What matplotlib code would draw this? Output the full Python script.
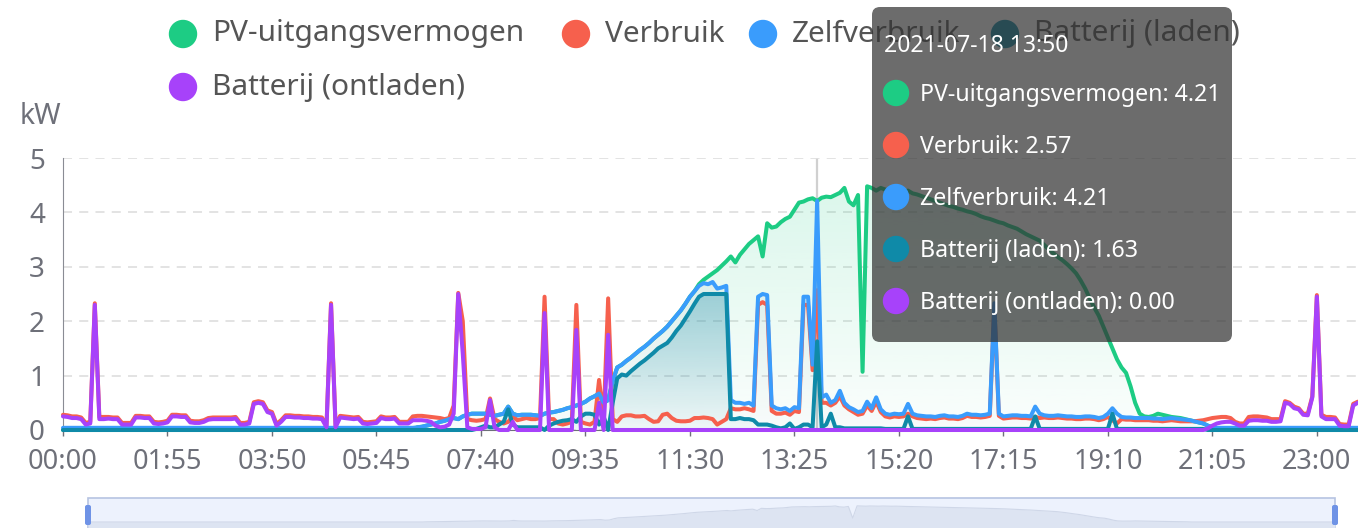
import matplotlib
import numpy as np
from matplotlib.colors import to_rgb
from matplotlib.patches import Circle, FancyBboxPatch, PathPatch, Rectangle

matplotlib.use("Agg")
import matplotlib.pyplot as plt

W, H = 1358, 528
STEP = 4.543  # px per 5-minute slot
FONT = ["Noto Sans", "DejaVu Sans"]

# one value per 5 minutes, one row per hour (kW)
pv_output = [
    0.00, 0.00, 0.00, 0.00, 0.00, 0.00, 0.00, 0.00, 0.00, 0.00, 0.00, 0.00,
    0.00, 0.00, 0.00, 0.00, 0.00, 0.00, 0.00, 0.00, 0.00, 0.00, 0.00, 0.00,
    0.00, 0.00, 0.00, 0.00, 0.00, 0.00, 0.00, 0.00, 0.00, 0.00, 0.00, 0.00,
    0.00, 0.00, 0.00, 0.00, 0.00, 0.00, 0.00, 0.00, 0.00, 0.00, 0.00, 0.00,
    0.00, 0.00, 0.00, 0.00, 0.00, 0.00, 0.00, 0.00, 0.00, 0.00, 0.00, 0.00,
    0.00, 0.00, 0.00, 0.00, 0.00, 0.00, 0.00, 0.00, 0.00, 0.00, 0.00, 0.00,
    0.00, 0.00, 0.00, 0.00, 0.00, 0.00, 0.05, 0.06, 0.08, 0.10, 0.12, 0.15,
    0.17, 0.20, 0.22, 0.20, 0.25, 0.28, 0.30, 0.30, 0.30, 0.30, 0.28, 0.26,
    0.28, 0.30, 0.43, 0.30, 0.27, 0.28, 0.28, 0.28, 0.27, 0.26, 0.30, 0.32,
    0.33, 0.35, 0.37, 0.40, 0.42, 0.45, 0.48, 0.52, 0.58, 0.62, 0.67, 0.50,
    0.55, 0.90, 1.15, 1.20, 1.27, 1.33, 1.40, 1.47, 1.53, 1.60, 1.68, 1.75,
    1.82, 1.90, 2.00, 2.10, 2.20, 2.32, 2.45, 2.55, 2.68, 2.76, 2.82, 2.88,
    2.94, 3.02, 3.10, 3.19, 3.08, 3.22, 3.32, 3.42, 3.49, 3.56, 3.19, 3.80,
    3.72, 3.74, 3.82, 3.88, 3.92, 4.05, 4.18, 4.20, 4.24, 4.26, 4.21, 4.27,
    4.29, 4.28, 4.32, 4.36, 4.45, 4.20, 4.13, 4.32, 1.07, 4.48, 4.45, 4.40,
    4.45, 4.42, 4.40, 4.44, 4.41, 4.38, 4.40, 4.35, 4.33, 4.30, 4.27, 4.24,
    4.21, 4.18, 4.15, 4.12, 4.10, 4.07, 4.05, 4.02, 4.00, 3.97, 3.93, 3.90,
    3.88, 3.85, 3.82, 3.80, 3.76, 3.73, 3.70, 3.65, 3.60, 3.56, 3.52, 3.48,
    3.40, 3.32, 3.25, 3.18, 3.12, 3.05, 2.97, 2.88, 2.75, 2.60, 2.42, 2.25,
    2.10, 1.90, 1.70, 1.50, 1.30, 1.15, 1.05, 0.80, 0.50, 0.30, 0.25, 0.24,
    0.26, 0.30, 0.28, 0.26, 0.24, 0.23, 0.22, 0.20, 0.18, 0.16, 0.14, 0.12,
    0.08, 0.05, 0.00, 0.00, 0.00, 0.00, 0.00, 0.00, 0.00, 0.00, 0.00, 0.00,
    0.00, 0.00, 0.00, 0.00, 0.00, 0.00, 0.00, 0.00, 0.00, 0.00, 0.00, 0.00,
    0.00, 0.00, 0.00, 0.00, 0.00, 0.00, 0.00, 0.00, 0.00, 0.00, 0.00, 0.00,
]

consumption = [
    0.28, 0.27, 0.25, 0.25, 0.23, 0.13, 0.15, 2.33, 0.24, 0.24, 0.24, 0.23,
    0.23, 0.13, 0.13, 0.13, 0.26, 0.26, 0.25, 0.25, 0.15, 0.14, 0.15, 0.17,
    0.28, 0.28, 0.27, 0.27, 0.17, 0.16, 0.16, 0.18, 0.22, 0.23, 0.23, 0.23,
    0.23, 0.23, 0.24, 0.13, 0.13, 0.15, 0.51, 0.53, 0.51, 0.36, 0.33, 0.11,
    0.18, 0.27, 0.27, 0.26, 0.26, 0.25, 0.25, 0.24, 0.24, 0.23, 0.08, 2.33,
    0.08, 0.26, 0.25, 0.24, 0.23, 0.24, 0.15, 0.14, 0.15, 0.16, 0.25, 0.23,
    0.23, 0.24, 0.15, 0.15, 0.15, 0.25, 0.26, 0.26, 0.25, 0.24, 0.23, 0.22,
    0.20, 0.22, 0.45, 2.52, 2.00, 0.20, 0.18, 0.17, 0.18, 0.20, 0.58, 0.20,
    0.15, 0.12, 0.15, 0.25, 0.18, 0.20, 0.22, 0.20, 0.20, 0.22, 2.45, 0.20,
    0.20, 0.12, 0.10, 0.12, 0.15, 2.30, 0.15, 0.12, 0.10, 0.15, 0.92, 0.20,
    2.42, 0.20, 0.15, 0.25, 0.27, 0.27, 0.25, 0.25, 0.26, 0.20, 0.15, 0.16,
    0.28, 0.30, 0.22, 0.17, 0.16, 0.16, 0.17, 0.22, 0.22, 0.23, 0.22, 0.20,
    0.10, 0.15, 0.20, 0.40, 0.38, 0.38, 0.40, 0.38, 0.35, 2.30, 2.35, 2.30,
    0.35, 0.30, 0.30, 0.32, 0.28, 0.35, 0.33, 2.30, 2.30, 1.10, 2.57, 0.50,
    0.50, 0.45, 0.50, 0.62, 0.45, 0.38, 0.33, 0.28, 0.30, 0.45, 0.35, 0.52,
    0.33, 0.25, 0.23, 0.25, 0.24, 0.25, 0.30, 0.25, 0.22, 0.21, 0.20, 0.21,
    0.20, 0.22, 0.23, 0.21, 0.21, 0.20, 0.22, 0.26, 0.24, 0.24, 0.23, 0.24,
    0.26, 2.28, 0.26, 0.21, 0.22, 0.23, 0.23, 0.22, 0.22, 0.21, 0.24, 0.22,
    0.23, 0.22, 0.22, 0.23, 0.22, 0.21, 0.21, 0.20, 0.20, 0.21, 0.21, 0.20,
    0.18, 0.20, 0.24, 0.18, 0.12, 0.20, 0.19, 0.19, 0.18, 0.18, 0.18, 0.18,
    0.17, 0.17, 0.16, 0.17, 0.18, 0.17, 0.16, 0.16, 0.16, 0.16, 0.17, 0.18,
    0.20, 0.22, 0.23, 0.24, 0.24, 0.22, 0.15, 0.12, 0.12, 0.24, 0.25, 0.25,
    0.24, 0.23, 0.20, 0.20, 0.20, 0.53, 0.50, 0.43, 0.40, 0.30, 0.30, 0.62,
    2.48, 0.28, 0.24, 0.24, 0.23, 0.11, 0.10, 0.10, 0.48, 0.52, 0.52, 0.52,
]

self_use = [
    0.04, 0.04, 0.04, 0.04, 0.04, 0.04, 0.04, 0.04, 0.04, 0.04, 0.04, 0.04,
    0.04, 0.04, 0.04, 0.04, 0.04, 0.04, 0.04, 0.04, 0.04, 0.04, 0.04, 0.04,
    0.04, 0.04, 0.04, 0.04, 0.04, 0.04, 0.04, 0.04, 0.04, 0.04, 0.04, 0.04,
    0.04, 0.04, 0.04, 0.04, 0.04, 0.04, 0.04, 0.04, 0.04, 0.04, 0.04, 0.04,
    0.04, 0.04, 0.04, 0.04, 0.04, 0.04, 0.04, 0.04, 0.04, 0.04, 0.04, 0.04,
    0.04, 0.04, 0.04, 0.04, 0.04, 0.04, 0.04, 0.04, 0.04, 0.04, 0.04, 0.04,
    0.04, 0.04, 0.04, 0.04, 0.04, 0.04, 0.05, 0.06, 0.08, 0.10, 0.12, 0.15,
    0.17, 0.20, 0.22, 0.20, 0.25, 0.28, 0.30, 0.30, 0.30, 0.30, 0.28, 0.26,
    0.28, 0.30, 0.43, 0.30, 0.27, 0.28, 0.28, 0.28, 0.27, 0.26, 0.30, 0.32,
    0.33, 0.35, 0.37, 0.40, 0.42, 0.45, 0.48, 0.52, 0.58, 0.62, 0.67, 0.50,
    0.55, 0.90, 1.15, 1.20, 1.27, 1.33, 1.40, 1.47, 1.53, 1.60, 1.68, 1.75,
    1.82, 1.90, 2.00, 2.10, 2.20, 2.32, 2.45, 2.55, 2.65, 2.70, 2.68, 2.72,
    2.60, 2.62, 2.65, 0.55, 0.50, 0.50, 0.48, 0.50, 0.45, 2.45, 2.50, 2.48,
    0.45, 0.40, 0.38, 0.40, 0.35, 0.42, 0.40, 2.45, 2.45, 1.20, 4.21, 0.60,
    0.65, 0.50, 0.55, 0.72, 0.50, 0.42, 0.38, 0.33, 0.35, 0.52, 0.40, 0.60,
    0.38, 0.30, 0.28, 0.30, 0.29, 0.30, 0.48, 0.30, 0.27, 0.26, 0.25, 0.25,
    0.24, 0.26, 0.27, 0.25, 0.25, 0.24, 0.26, 0.30, 0.28, 0.28, 0.27, 0.28,
    0.30, 2.33, 0.30, 0.25, 0.26, 0.27, 0.27, 0.26, 0.26, 0.25, 0.43, 0.30,
    0.27, 0.26, 0.26, 0.27, 0.26, 0.25, 0.25, 0.24, 0.24, 0.25, 0.25, 0.24,
    0.22, 0.24, 0.30, 0.40, 0.30, 0.24, 0.23, 0.23, 0.22, 0.22, 0.22, 0.22,
    0.21, 0.21, 0.20, 0.21, 0.22, 0.21, 0.20, 0.19, 0.18, 0.16, 0.14, 0.12,
    0.08, 0.05, 0.04, 0.04, 0.04, 0.04, 0.04, 0.04, 0.04, 0.04, 0.04, 0.04,
    0.04, 0.04, 0.04, 0.04, 0.04, 0.04, 0.04, 0.04, 0.04, 0.04, 0.04, 0.04,
    0.04, 0.04, 0.04, 0.04, 0.04, 0.04, 0.04, 0.04, 0.04, 0.04, 0.04, 0.04,
]

battery_charge = [
    0.00, 0.00, 0.00, 0.00, 0.00, 0.00, 0.00, 0.00, 0.00, 0.00, 0.00, 0.00,
    0.00, 0.00, 0.00, 0.00, 0.00, 0.00, 0.00, 0.00, 0.00, 0.00, 0.00, 0.00,
    0.00, 0.00, 0.00, 0.00, 0.00, 0.00, 0.00, 0.00, 0.00, 0.00, 0.00, 0.00,
    0.00, 0.00, 0.00, 0.00, 0.00, 0.00, 0.00, 0.00, 0.00, 0.00, 0.00, 0.00,
    0.00, 0.00, 0.00, 0.00, 0.00, 0.00, 0.00, 0.00, 0.00, 0.00, 0.00, 0.00,
    0.00, 0.00, 0.00, 0.00, 0.00, 0.00, 0.00, 0.00, 0.00, 0.00, 0.00, 0.00,
    0.00, 0.00, 0.00, 0.00, 0.00, 0.00, 0.00, 0.00, 0.00, 0.00, 0.00, 0.00,
    0.00, 0.00, 0.00, 0.00, 0.00, 0.00, 0.00, 0.02, 0.05, 0.08, 0.05, 0.05,
    0.10, 0.15, 0.38, 0.10, 0.05, 0.05, 0.05, 0.05, 0.05, 0.05, 0.00, 0.08,
    0.12, 0.15, 0.17, 0.18, 0.20, 0.15, 0.25, 0.30, 0.30, 0.28, 0.10, 0.25,
    0.00, 0.50, 0.95, 1.02, 1.00, 1.08, 1.15, 1.22, 1.28, 1.35, 1.42, 1.50,
    1.55, 1.60, 1.70, 1.82, 1.92, 2.05, 2.18, 2.32, 2.45, 2.50, 2.50, 2.50,
    2.50, 2.50, 2.50, 0.20, 0.20, 0.22, 0.20, 0.20, 0.18, 0.10, 0.10, 0.10,
    0.08, 0.05, 0.03, 0.05, 0.12, 0.02, 0.05, 0.10, 0.10, 0.05, 1.63, 0.05,
    0.10, 0.30, 0.05, 0.05, 0.03, 0.03, 0.03, 0.03, 0.03, 0.03, 0.03, 0.03,
    0.03, 0.02, 0.02, 0.02, 0.02, 0.02, 0.25, 0.02, 0.02, 0.02, 0.02, 0.02,
    0.02, 0.02, 0.02, 0.02, 0.02, 0.02, 0.02, 0.02, 0.02, 0.02, 0.02, 0.02,
    0.02, 0.02, 0.02, 0.02, 0.02, 0.02, 0.02, 0.02, 0.02, 0.02, 0.25, 0.02,
    0.02, 0.02, 0.02, 0.02, 0.02, 0.02, 0.02, 0.02, 0.02, 0.02, 0.02, 0.02,
    0.02, 0.02, 0.02, 0.30, 0.02, 0.02, 0.02, 0.02, 0.02, 0.02, 0.02, 0.02,
    0.02, 0.02, 0.02, 0.02, 0.02, 0.02, 0.02, 0.02, 0.02, 0.02, 0.02, 0.02,
    0.00, 0.00, 0.00, 0.00, 0.00, 0.00, 0.00, 0.00, 0.00, 0.00, 0.00, 0.00,
    0.00, 0.00, 0.00, 0.00, 0.00, 0.00, 0.00, 0.00, 0.00, 0.00, 0.00, 0.00,
    0.00, 0.00, 0.00, 0.00, 0.00, 0.00, 0.00, 0.00, 0.00, 0.00, 0.00, 0.00,
]

battery_discharge = [
    0.25, 0.24, 0.22, 0.22, 0.20, 0.10, 0.12, 2.30, 0.20, 0.20, 0.21, 0.20,
    0.20, 0.10, 0.10, 0.10, 0.23, 0.23, 0.22, 0.22, 0.12, 0.11, 0.12, 0.14,
    0.25, 0.25, 0.24, 0.24, 0.14, 0.13, 0.13, 0.15, 0.19, 0.20, 0.20, 0.20,
    0.20, 0.20, 0.21, 0.10, 0.10, 0.12, 0.48, 0.50, 0.48, 0.33, 0.30, 0.08,
    0.15, 0.24, 0.24, 0.23, 0.23, 0.22, 0.22, 0.21, 0.21, 0.20, 0.05, 2.30,
    0.05, 0.23, 0.22, 0.21, 0.20, 0.21, 0.12, 0.11, 0.12, 0.13, 0.22, 0.20,
    0.20, 0.21, 0.12, 0.12, 0.12, 0.18, 0.18, 0.18, 0.17, 0.15, 0.08, 0.05,
    0.06, 0.10, 0.30, 2.50, 1.40, 0.05, 0.02, 0.02, 0.02, 0.05, 0.55, 0.05,
    0.00, 0.00, 0.00, 0.15, 0.00, 0.00, 0.00, 0.00, 0.00, 0.00, 2.15, 0.00,
    0.00, 0.00, 0.00, 0.00, 0.00, 1.84, 0.00, 0.00, 0.00, 0.00, 0.50, 0.00,
    1.75, 0.00, 0.00, 0.00, 0.00, 0.00, 0.00, 0.00, 0.00, 0.00, 0.00, 0.00,
    0.00, 0.00, 0.00, 0.00, 0.00, 0.00, 0.00, 0.00, 0.00, 0.00, 0.00, 0.00,
    0.00, 0.00, 0.00, 0.00, 0.00, 0.00, 0.00, 0.00, 0.00, 0.00, 0.00, 0.00,
    0.00, 0.00, 0.00, 0.00, 0.00, 0.00, 0.00, 0.00, 0.00, 0.00, 0.00, 0.00,
    0.00, 0.00, 0.00, 0.00, 0.00, 0.00, 0.00, 0.00, 0.00, 0.00, 0.00, 0.00,
    0.00, 0.00, 0.00, 0.00, 0.00, 0.00, 0.00, 0.00, 0.00, 0.00, 0.00, 0.00,
    0.00, 0.00, 0.00, 0.00, 0.00, 0.00, 0.00, 0.00, 0.00, 0.00, 0.00, 0.00,
    0.00, 0.00, 0.00, 0.00, 0.00, 0.00, 0.00, 0.00, 0.00, 0.00, 0.00, 0.00,
    0.00, 0.00, 0.00, 0.00, 0.00, 0.00, 0.00, 0.00, 0.00, 0.00, 0.00, 0.00,
    0.00, 0.00, 0.00, 0.00, 0.00, 0.00, 0.00, 0.00, 0.00, 0.00, 0.00, 0.00,
    0.00, 0.00, 0.00, 0.00, 0.00, 0.00, 0.00, 0.00, 0.00, 0.00, 0.00, 0.00,
    0.03, 0.08, 0.12, 0.14, 0.15, 0.15, 0.12, 0.08, 0.08, 0.17, 0.18, 0.18,
    0.17, 0.17, 0.15, 0.15, 0.16, 0.50, 0.48, 0.40, 0.38, 0.28, 0.27, 0.60,
    2.45, 0.25, 0.20, 0.20, 0.20, 0.08, 0.07, 0.07, 0.45, 0.50, 0.50, 0.50,
]

series_names = ["PV-uitgangsvermogen", "Verbruik", "Zelfverbruik",
                "Batterij (laden)", "Batterij (ontladen)"]
series_colors = ["#1dcc84", "#f6604d", "#3a9cfc", "#0f8aa8", "#a742fa"]
tick_labels = ["00:00", "01:55", "03:50", "05:45", "07:40", "09:35", "11:30",
               "13:25", "15:20", "17:15", "19:10", "21:05", "23:00"]
hover_index = 166
hover_title = "2021-07-18 13:50"

series_values = [pv_output, consumption, self_use, battery_charge, battery_discharge]
x = np.arange(len(pv_output))
n_last = len(x) - 1


def gradient_fill(ax, values, color, a_top, a_bottom, top, zorder):
    poly = ax.fill_between(x, 0, values, facecolor="none", edgecolor="none")
    clip = PathPatch(poly.get_paths()[0], transform=ax.transData,
                     facecolor="none", edgecolor="none")
    ax.add_patch(clip)
    img = np.zeros((200, 1, 4))
    img[:, :, :3] = to_rgb(color)
    img[:, 0, 3] = np.linspace(a_top, a_bottom, 200)
    im = ax.imshow(img, aspect="auto", extent=[0, n_last, 0, top],
                   origin="upper", zorder=zorder, interpolation="bilinear")
    im.set_clip_path(clip)


fig = plt.figure(figsize=(W / 100, H / 100), dpi=100)
ax = fig.add_axes([63 / W, (H - 430) / H, n_last * STEP / W, 272 / H])

gradient_fill(ax, pv_output, series_colors[0], 0.16, 0.02, 4.5, 0.6)
gradient_fill(ax, self_use, "#9aa8bf", 0.18, 0.02, 4.21, 0.7)
gradient_fill(ax, battery_charge, series_colors[3], 0.32, 0.04, 2.5, 0.8)

ax.axvline(hover_index, color="#d0d0d0", lw=1.6, zorder=0.5)

for k, (vals, col) in enumerate(zip(series_values, series_colors)):
    ax.plot(x, vals, color=col, lw=2.9, solid_joinstyle="round",
            solid_capstyle="round", zorder=2 + k, clip_on=False)

ax.set_xlim(0, n_last)
ax.set_ylim(0, 5)
ax.set_yticks(range(6))
ax.set_xticks(np.arange(0, len(x), 23))
ax.set_xticklabels(tick_labels)
ax.grid(axis="y", color="#e0e0e0", lw=1.3, linestyle=(0, (5, 4)))
ax.set_axisbelow(True)
for side in ["top", "right"]:
    ax.spines[side].set_visible(False)
ax.spines["left"].set_color("#8a8c94")
ax.spines["bottom"].set_color("#6e7079")
ax.tick_params(axis="y", length=0, pad=13, labelsize=20, labelcolor="#6e7079")
ax.tick_params(axis="x", length=4, width=1, color="#6e7079", pad=9,
               labelsize=19.5, labelcolor="#6e7079")
for lab in ax.get_xticklabels() + ax.get_yticklabels():
    lab.set_fontfamily(FONT)

# overlay in pixel coordinates: legend, tooltip, data zoom
ov = fig.add_axes([0, 0, 1, 1])
ov.set_xlim(0, W)
ov.set_ylim(H, 0)
ov.axis("off")

ov.text(40, 117, "kW", ha="center", va="center", fontsize=20.5,
        color="#6e7079", family=FONT)

legend_pos = [(183, 34), (576, 34), (763, 34), (1005, 34), (183, 87)]
for (cx, cy), name, col in zip(legend_pos, series_names, series_colors):
    ov.add_patch(Circle((cx, cy), 13.5, color=col, zorder=5))
    ov.text(cx + 29, cy, name, ha="left", va="center", fontsize=21.5,
            color="#555555", family=FONT, zorder=5)

ov.add_patch(FancyBboxPatch((872, 7), 360, 335,
                            boxstyle="round,pad=0,rounding_size=8",
                            facecolor=(0.2, 0.2, 0.2, 0.72), edgecolor="none",
                            zorder=10))
ov.text(884, 46, hover_title, ha="left", va="center", fontsize=16.5,
        color="white", family=FONT, zorder=11)
for k, (name, vals, col) in enumerate(zip(series_names, series_values, series_colors)):
    cy = 93 + 52 * k
    ov.add_patch(Circle((896, cy), 12.5, color=col, zorder=11))
    ov.text(920, cy + 2, f"{name}: {vals[hover_index]:.2f}", ha="left",
            va="center", fontsize=16.7, color="white", family=FONT, zorder=11)

# data zoom slider with PV shadow
ov.add_patch(Rectangle((88, 498), 1247, 40, facecolor="#edf2fd",
                       edgecolor="#b6c4e2", lw=1.2, zorder=3))
sx = 88 + x * (1247 / n_last)
sy = 522 - np.array(pv_output) * 3.6
ov.fill_between(sx, sy, 540, color="#dde4f2", lw=0, zorder=3.5)
ov.plot(sx, sy, color="#cfd7e8", lw=0.8, zorder=3.6)
for hx in [88, 1335]:
    ov.add_patch(FancyBboxPatch((hx - 3, 505), 6, 20,
                                boxstyle="round,pad=0,rounding_size=2",
                                facecolor="#6f93e6", edgecolor="none", zorder=4))

fig.savefig("out.png", dpi=100)
